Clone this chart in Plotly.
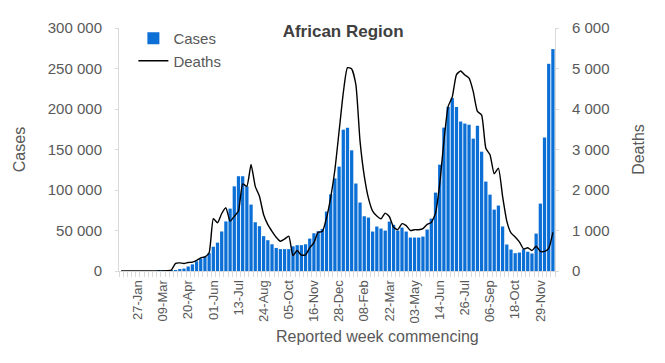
import pandas as pd
import plotly.graph_objects as go

# Weekly reporting periods (week commencing), 30-Dec-2019 .. 20-Dec-2021
weeks = pd.date_range("2019-12-30", periods=104, freq="7D")

tick_labels = ["27-Jan", "09-Mar", "20-Apr", "01-Jun", "13-Jul", "24-Aug", "05-Oct",
               "16-Nov", "28-Dec", "08-Feb", "22-Mar", "03-May", "14-Jun", "26-Jul",
               "06-Sep", "18-Oct", "29-Nov"]

cases = [
    0, 0, 0, 0, 0, 0, 0, 0, 2, 10,
    100, 350, 700, 1100, 1900, 3000, 5600, 8200, 12000, 15500,
    17800, 22000, 30000, 35000, 48800, 61200, 77000, 104500, 117000, 117000,
    104500, 82000, 60200, 55300, 43000, 38000, 33000, 28500, 27000, 27000,
    27000, 30500, 31900, 31900, 33000, 40000, 46600, 49100, 52000, 73400,
    94700, 114300, 128900, 174500, 177000, 149000, 108000, 84500, 67600, 66000,
    48700, 54900, 52400, 49900, 61000, 57000, 49900, 53600, 48700, 41300,
    41300, 41300, 42500, 51200, 64700, 96800, 131300, 177000, 202600, 213500,
    202600, 184500, 182000, 180600, 163400, 179400, 147300, 110400, 94300, 75800,
    80800, 55000, 32700, 26500, 22000, 22800, 26900, 23800, 21600, 46200,
    83200, 164800, 255800, 274000,
]

deaths = [
    0, 0, 0, 0, 0, 0, 0, 0, 0, 0,
    2, 8, 25, 190, 200, 185, 210, 220, 265, 325,
    350, 450, 1290, 1190, 1420, 1560, 1230, 1350, 1480, 2150,
    2090, 2630, 2090, 1845, 1390, 1145, 980, 835, 735, 790,
    860, 380, 505, 390, 400, 570, 700, 955, 975, 1310,
    1820, 2500, 3450, 4400, 5020, 4990, 4600, 3200, 2350, 1800,
    1480, 1360, 1290, 1430, 1340, 1080, 1020, 1170, 1120, 1000,
    1020, 1020, 1045, 1150, 1200, 1430, 2150, 3200, 4060, 4300,
    4850, 4940, 4840, 4760, 4430, 3940, 3850, 3030, 2870, 2400,
    2540, 1840, 1230, 940, 840, 720, 545, 575, 505, 610,
    485, 485, 560, 955,
]

cases_ticks = [0, 50000, 100000, 150000, 200000, 250000, 300000]
deaths_ticks = [0, 1000, 2000, 3000, 4000, 5000, 6000]

FONT = "Liberation Sans"
GREY = "#595959"
AXC = "#d9d9d9"
half_week = pd.Timedelta(days=3.5)

fig = go.Figure()
fig.add_trace(go.Bar(x=weeks, y=cases, name="Cases", marker_color="#0B6FD6",
                     marker_line_width=0, yaxis="y"))
fig.add_trace(go.Scatter(x=weeks, y=deaths, name="Deaths", mode="lines",
                         line=dict(color="black", width=1.4, shape="spline", smoothing=0.5),
                         yaxis="y2"))

fig.update_layout(
    width=665, height=363,
    margin=dict(l=119, r=110, t=28, b=92, autoexpand=False),
    paper_bgcolor="white", plot_bgcolor="white",
    separators=". ",
    bargap=0.22,
    font=dict(family=FONT, color=GREY),
    title=dict(text="<b>African Region</b>", x=0.516, xanchor="center",
               y=1 - 31 / 363, yanchor="middle",
               font=dict(family=FONT, size=17, color="#404040")),
    legend=dict(x=0.033, y=1.025, xanchor="left", yanchor="top",
                bgcolor="rgba(0,0,0,0)", font=dict(size=15, color=GREY),
                tracegroupgap=0, itemwidth=30),
    showlegend=True,
    xaxis=dict(
        range=[weeks[0] - half_week, weeks[-1] + half_week],
        tickvals=list(weeks[4::6]), ticktext=tick_labels,
        tickangle=-90, ticks="", showgrid=False, zeroline=False,
        showline=True, linecolor=AXC, linewidth=1,
        tickfont=dict(size=13, color=GREY), ticklabelstandoff=3,
        minor=dict(tickmode="linear", tick0=weeks[0] - half_week,
                   dtick=7 * 86400000, ticks="outside", ticklen=5,
                   tickcolor=AXC, showgrid=False),
    ),
    yaxis=dict(
        range=[0, 300000], tickvals=cases_ticks, tickformat=",",
        showgrid=False, zeroline=False, showline=True, linecolor=AXC,
        ticks="outside", ticklen=3, tickcolor=AXC, ticklabelstandoff=10,
        tickfont=dict(size=15, color=GREY),
        title=dict(text="Cases", font=dict(size=16, color=GREY), standoff=18),
    ),
    yaxis2=dict(
        range=[0, 6000], tickvals=deaths_ticks, tickformat=",",
        overlaying="y", side="right",
        showgrid=False, zeroline=False, showline=True, linecolor=AXC,
        ticks="outside", ticklen=3, tickcolor=AXC, ticklabelstandoff=10,
        tickfont=dict(size=15, color=GREY),
        title=dict(text="Deaths", font=dict(size=16, color=GREY), standoff=24),
    ),
    annotations=[dict(text="Reported week commencing", xref="paper", yref="paper",
                      x=0.592, y=-0.27, xanchor="center", yanchor="middle",
                      showarrow=False, font=dict(size=16, color=GREY))],
)

fig.write_html("out.html", post_script="document.body.style.margin='0';",
               config={"displayModeBar": False})
